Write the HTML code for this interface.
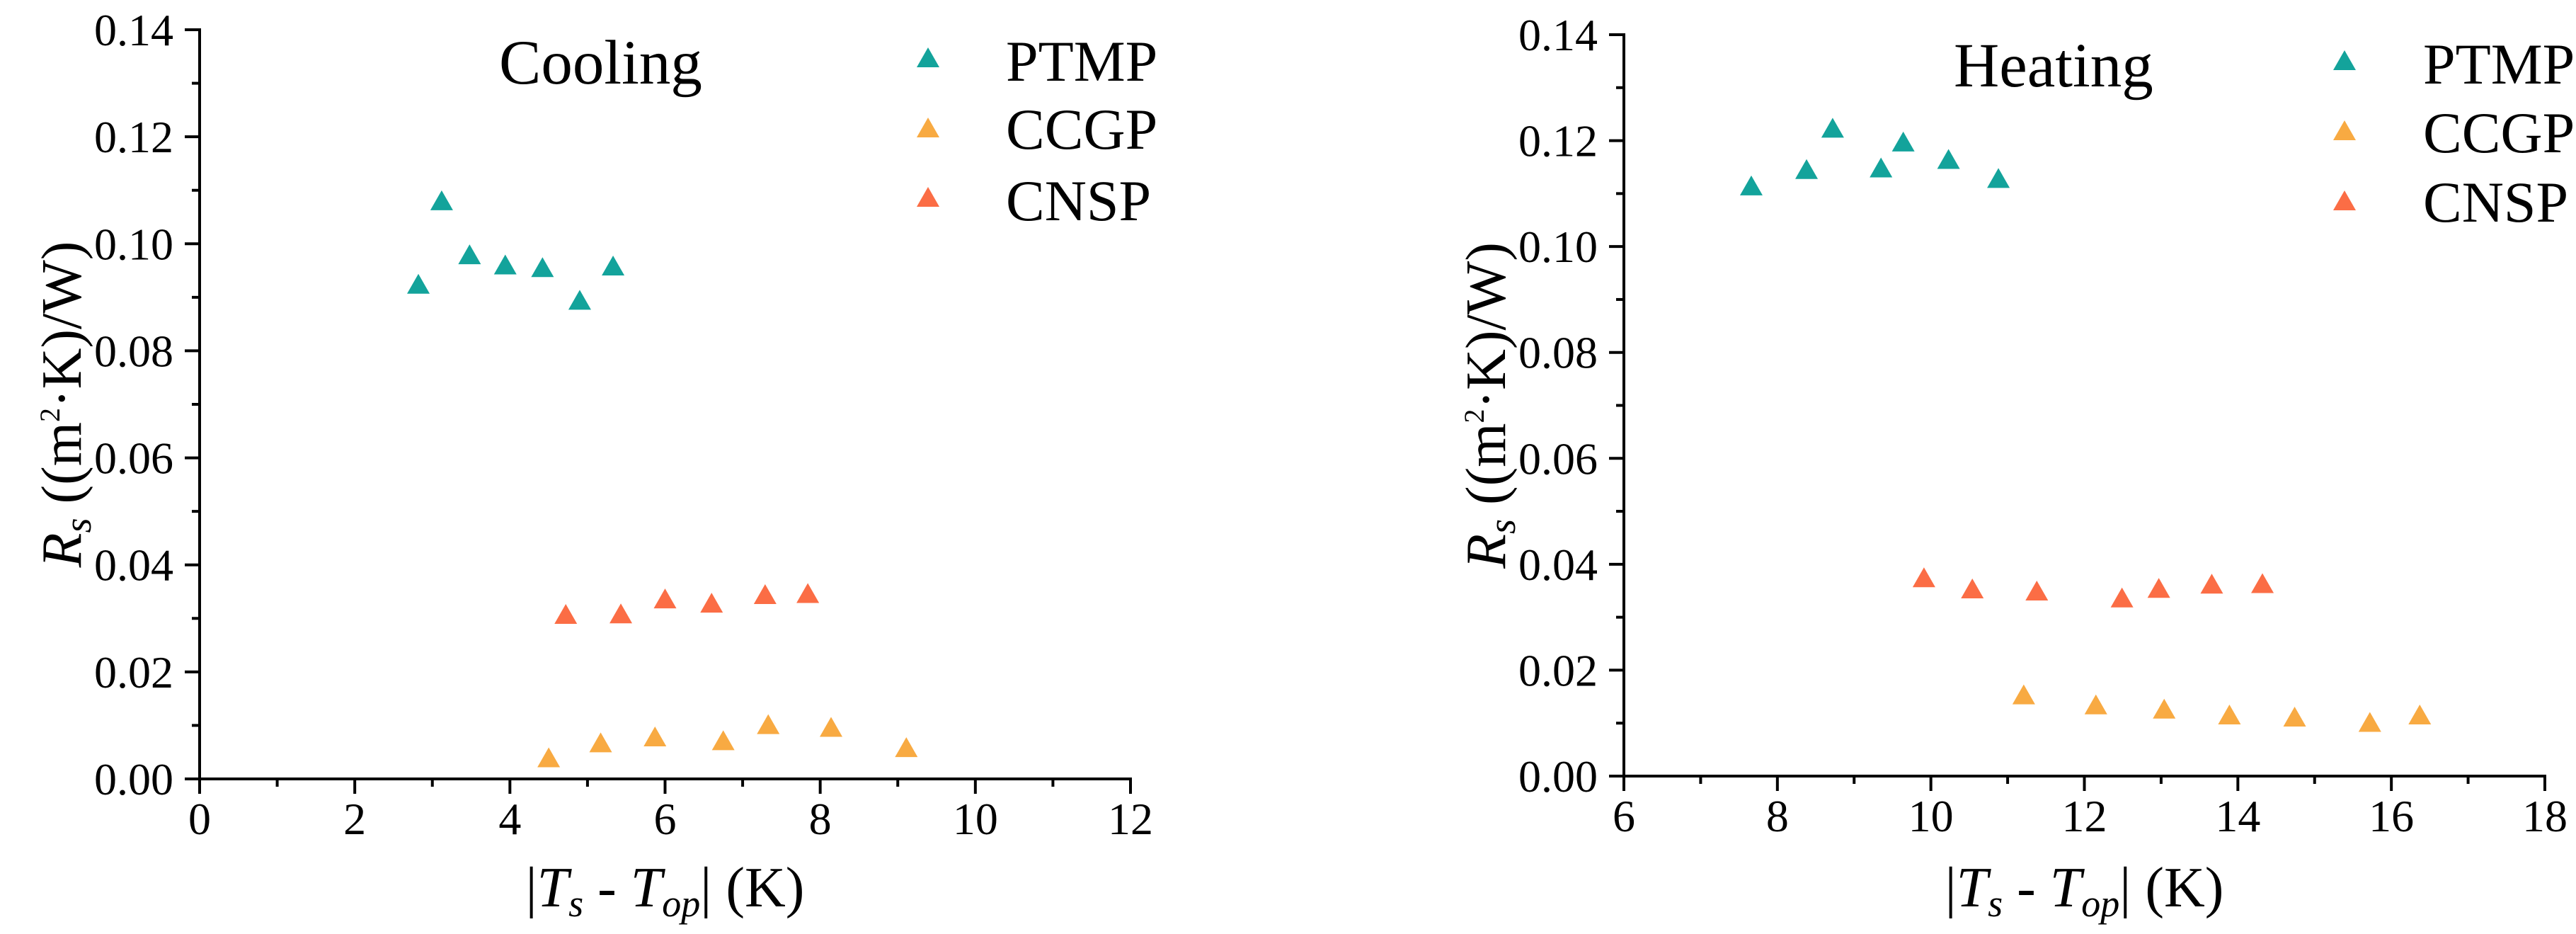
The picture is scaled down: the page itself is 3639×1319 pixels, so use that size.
<!DOCTYPE html>
<html><head><meta charset="utf-8"><style>
html,body{margin:0;padding:0;background:#fff;}
svg, svg text{font-family:"Liberation Serif","Times New Roman","DejaVu Serif",serif;}
svg{display:block;}
</style></head><body>
<svg id="chart" width="3639" height="1319" viewBox="0 0 3639 1319" xmlns="http://www.w3.org/2000/svg" font-family="Liberation Serif, Times New Roman, serif"></svg>
<script>
// Cooling panel data
const coolPTMPx = [2.82,3.12,3.48,3.94,4.42,4.90,5.33];
const coolPTMPy = [0.0924,0.108,0.0979,0.0960,0.0955,0.0894,0.0958];
const coolCCGPx = [4.50,5.17,5.87,6.75,7.33,8.14,9.11];
const coolCCGPy = [0.0039,0.0067,0.0078,0.0071,0.0101,0.0096,0.0058];
const coolCNSPx = [4.72,5.43,6.0,6.6,7.29,7.84];
const coolCNSPy = [0.0307,0.0308,0.0336,0.0328,0.0344,0.0346];
// Heating panel data
const heatPTMPx = [7.66,8.38,8.72,9.35,9.64,10.23,10.88];
const heatPTMPy = [0.1114,0.1145,0.1223,0.1148,0.1197,0.1164,0.1128];
const heatCCGPx = [11.21,12.15,13.04,13.89,14.74,15.72,16.37];
const heatCCGPy = [0.0153,0.0134,0.0126,0.0115,0.0111,0.0101,0.0115];
const heatCNSPx = [9.91,10.54,11.38,12.49,12.97,13.66,14.32];
const heatCNSPy = [0.0374,0.0353,0.0349,0.0336,0.0354,0.0362,0.0363];
// ticks
const yTicks = [0,0.02,0.04,0.06,0.08,0.10,0.12,0.14];
const yTickLabels = ["0.00","0.02","0.04","0.06","0.08","0.10","0.12","0.14"];
const coolXTicks = [0,2,4,6,8,10,12];
const heatXTicks = [6,8,10,12,14,16,18];
const seriesNames = ["PTMP","CCGP","CNSP"];
const seriesColors = ["#13a39b","#f8aa42","#fb6d45"];

const NS="http://www.w3.org/2000/svg";
const svg=document.getElementById('chart');
function mk(tag,attrs,parent){const e=document.createElementNS(NS,tag);for(const k in attrs)e.setAttribute(k,attrs[k]);(parent||svg).appendChild(e);return e;}

function panel(cfg){
  const g=mk('g',{});
  
  
  const sx=v=>cfg.x0+(v-cfg.xmin)/(cfg.xmax-cfg.xmin)*(cfg.x1-cfg.x0);
  const sy=v=>cfg.y0-(v-0)/(0.14)*(cfg.y0-cfg.y1);
  const ax=mk('line',{x1:cfg.x0,y1:cfg.y0,x2:cfg.x1+2,y2:cfg.y0,stroke:'#000','stroke-width':4},g);
  
  
  const ay=mk('line',{x1:cfg.x0,y1:cfg.y0+2,x2:cfg.x0,y2:cfg.y1-2,stroke:'#000','stroke-width':4},g);
  
  
  const xt=cfg.xticks;
  for(let i=0;i<xt.length;i++){
    const x=sx(xt[i]);
    const t=mk('line',{x1:x,y1:cfg.y0,x2:x,y2:cfg.y0+21,stroke:'#000','stroke-width':4},g);
    
    
    const lb=mk('text',{x:x,y:cfg.y0+78,'font-size':64,'text-anchor':'middle'},g);
    lb.textContent=String(xt[i]);
    
    
    if(i<xt.length-1){
      const xm=sx((xt[i]+xt[i+1])/2);
      const m=mk('line',{x1:xm,y1:cfg.y0,x2:xm,y2:cfg.y0+11,stroke:'#000','stroke-width':4},g);
      
      
    }
  }
  for(let i=0;i<yTicks.length;i++){
    const y=sy(yTicks[i]);
    const t=mk('line',{x1:cfg.x0-21,y1:y,x2:cfg.x0,y2:y,stroke:'#000','stroke-width':4},g);
    
    
    const lb=mk('text',{x:cfg.x0-37,y:y+22,'font-size':64,'text-anchor':'end'},g);
    lb.textContent=yTickLabels[i];
    
    
    if(i<yTicks.length-1){
      const ym=sy((yTicks[i]+yTicks[i+1])/2);
      const m=mk('line',{x1:cfg.x0-11,y1:ym,x2:cfg.x0,y2:ym,stroke:'#000','stroke-width':4},g);
      
      
    }
  }
  const xl=mk('text',{x:(cfg.x0+cfg.x1)/2,y:1280,'font-size':80,'text-anchor':'middle'},g);
  xl.innerHTML='|<tspan font-style="italic">T</tspan><tspan font-style="italic" font-size="54" dy="14">s</tspan><tspan dy="-14"> - </tspan><tspan font-style="italic">T</tspan><tspan font-style="italic" font-size="54" dy="14">op</tspan><tspan dy="-14">| (K)</tspan>';
  
  
  const yl=mk('text',{x:0,y:0,'font-size':80,'text-anchor':'middle',transform:`translate(${cfg.x0-168},${(cfg.y0+cfg.y1)/2}) rotate(-90)`},g);
  yl.innerHTML='<tspan font-style="italic">R</tspan><tspan font-style="italic" font-size="54" dy="14">s</tspan><tspan dy="-14"> ((m</tspan><tspan font-size="40" dy="-30">2</tspan><tspan dy="30">·K)/W)</tspan>';
  
  
  const tt=mk('text',{x:cfg.tx,y:cfg.ty,'font-size':89},g);
  tt.textContent=cfg.title;
  
  
  const tri=(cx,cy,c,parent)=>mk('polygon',{points:`${cx},${cy-15} ${cx+16},${cy+13} ${cx-16},${cy+13}`,fill:c},parent);
  for(let s=0;s<3;s++){
    const sg=mk('g',{},g);
    
    
    const xs=cfg.series[s][0], ys=cfg.series[s][1];
    for(let i=0;i<xs.length;i++){
      const p=tri(sx(xs[i]),sy(ys[i]),seriesColors[s],sg);
      
      
    }
    const lg=mk('g',{},g);
    
    
    tri(cfg.lmx,cfg.lmy[s],seriesColors[s],lg);
    const lt=mk('text',{x:cfg.ltx,y:cfg.lty[s],'font-size':82},lg);
    lt.textContent=seriesNames[s];
  }
}
panel({name:'cooling-panel',title:'Cooling',x0:282,x1:1597,y0:1100,y1:42,xmin:0,xmax:12,xticks:coolXTicks,
  tx:705,ty:118,lmx:1311,lmy:[82,181,279],ltx:1421,lty:[114,210,311],
  series:[[coolPTMPx,coolPTMPy],[coolCCGPx,coolCCGPy],[coolCNSPx,coolCNSPy]]});
panel({name:'heating-panel',title:'Heating',x0:2294,x1:3595,y0:1096,y1:49,xmin:6,xmax:18,xticks:heatXTicks,
  tx:2760,ty:122,lmx:3312,lmy:[86,185,284],ltx:3423,lty:[118,215,313],
  series:[[heatPTMPx,heatPTMPy],[heatCCGPx,heatCCGPy],[heatCNSPx,heatCNSPy]]});
</script>
</body></html>
